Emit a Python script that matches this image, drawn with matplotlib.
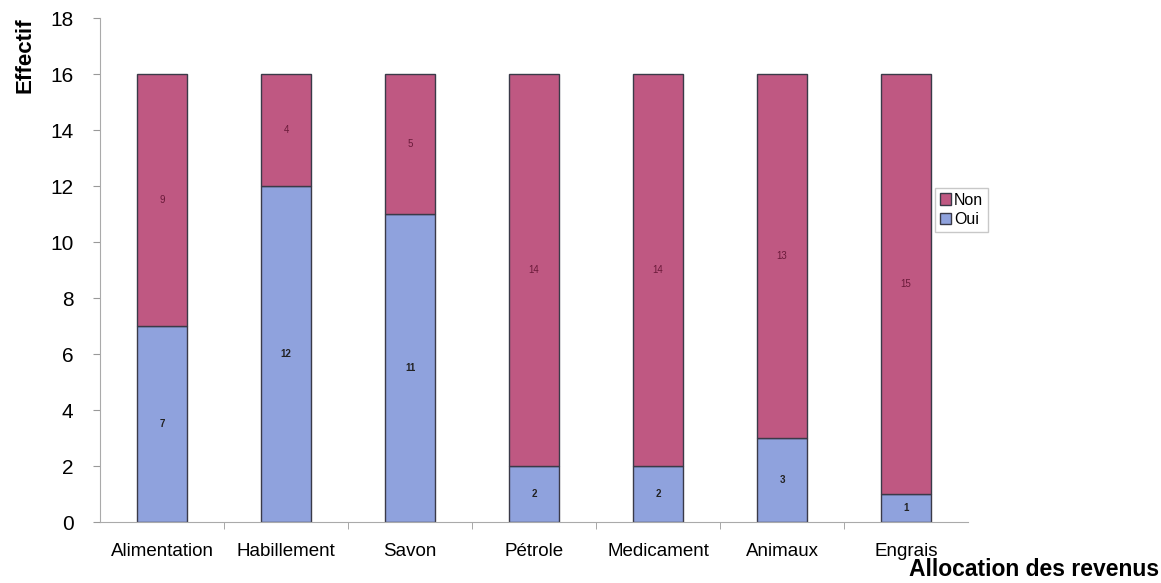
import matplotlib
matplotlib.use("Agg")
import matplotlib.pyplot as plt

categories = ["Alimentation", "Habillement", "Savon", "Pétrole", "Medicament", "Animaux", "Engrais"]
oui = [7, 12, 11, 2, 2, 3, 1]
non = [9, 4, 5, 14, 14, 13, 15]
yticks = [0, 2, 4, 6, 8, 10, 12, 14, 16, 18]

plt.rcParams['font.family'] = ['Liberation Sans', 'DejaVu Sans']

fig = plt.figure(figsize=(11.61, 5.83), dpi=100)
ax = fig.add_axes([100/1161, 1 - 522/583, 868/1161, 504/583])

c_oui = '#8fa2dd'
c_non = '#bf5882'
x = list(range(len(categories)))
b1 = ax.bar(x, oui, width=0.4, color=c_oui, edgecolor='#3a3a48', linewidth=1.0, label='Oui')
b2 = ax.bar(x, non, width=0.4, bottom=oui, color=c_non, edgecolor='#3a3a48', linewidth=1.0, label='Non')

for i in x:
    ax.text(i, oui[i] / 2, str(oui[i]), ha='center', va='center', fontsize=7, fontweight='bold', color='#222222')
    ax.text(i, oui[i] + non[i] / 2, str(non[i]), ha='center', va='center', fontsize=7, color='#6a1a3a')

ax.set_xlim(-0.5, len(categories) - 0.5)
ax.set_ylim(0, 18)
ax.set_yticks(yticks)
ax.set_yticklabels([str(t) for t in yticks], fontsize=15)
ax.set_xticks(x)
ax.set_xticklabels(categories, fontsize=13.5)
ax.set_xticks([i + 0.5 for i in x[:-1]], minor=True)
ax.tick_params(axis='x', which='major', length=0, pad=15)
ax.tick_params(axis='x', which='minor', length=5, color='#999999')
ax.tick_params(axis='y', length=5, color='#999999', pad=14)
for s in ['top', 'right']:
    ax.spines[s].set_visible(False)
ax.spines['left'].set_color('#aaaaaa')
ax.spines['bottom'].set_color('#aaaaaa')

fig.text(25/1161, 1 - 55/583, 'Effectif', rotation=90, ha='center', va='center', fontsize=16, fontweight='bold')
fig.text(1159/1161, 2/583, 'Allocation des revenus', ha='right', va='bottom', fontsize=16.5, fontweight='bold')

leg = ax.legend(handles=[b2, b1], labels=['Non', 'Oui'], loc='center left',
                bbox_to_anchor=(835/868, 1 - (210 - 18)/504), fontsize=11.5,
                frameon=True, fancybox=False, edgecolor='#bbbbbb', handlelength=0.7,
                handleheight=0.7, handletextpad=0.2, borderpad=0.3, labelspacing=0.3,
                borderaxespad=0)

fig.savefig('out.png', dpi=100)
